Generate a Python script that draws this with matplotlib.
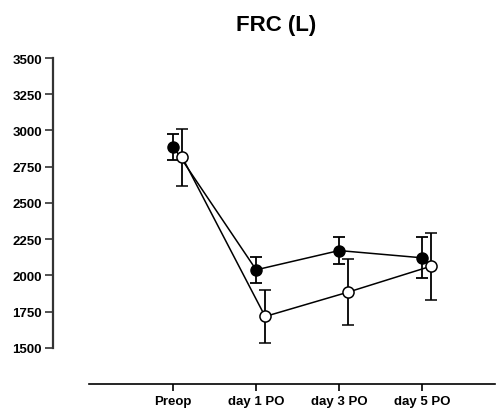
import numpy as np
import matplotlib
matplotlib.use('Agg')
import matplotlib.pyplot as plt

# 数据
labels = ['Preop', 'day 1 PO', 'day 3 PO', 'day 5 PO']
filled_mean = [2888, 2038, 2171, 2121]
filled_err = [89, 88, 92, 141]
open_mean = [2815, 1716, 1884, 2063]
open_err = [195, 182, 227, 230]

plt.rcParams['font.family'] = ['Liberation Sans', 'DejaVu Sans']
plt.rcParams['font.weight'] = 'bold'

fig = plt.figure(figsize=(5.01, 4.14), dpi=100)
ax = fig.add_axes([53 / 501, 1 - 385 / 414, (495 - 53) / 501, (385 - 59) / 414])

x = np.arange(len(labels))
offset = 0.108

# 实心点系列
ax.errorbar(x, filled_mean, yerr=filled_err, fmt='-o', color='black',
            mfc='black', mec='black', ms=8, lw=1.1, elinewidth=1.3,
            capsize=4, capthick=1.3, zorder=3)
# 空心点系列
ax.errorbar(x + offset, open_mean, yerr=open_err, fmt='-o', color='black',
            mfc='white', mec='black', ms=8, mew=1.1, lw=1.1, elinewidth=1.3,
            capsize=4, capthick=1.3, zorder=4)

ax.set_xlim(-1.45, 3.88)
ax.set_ylim(1250, 3500)
ax.set_yticks(range(1500, 3501, 250))
ax.set_xticks(x)
ax.set_xticklabels(labels)

for s in ['top', 'right']:
    ax.spines[s].set_visible(False)
ax.spines['left'].set_bounds(1500, 3500)
ax.spines['bottom'].set_bounds(-1.01, 3.88)
ax.spines['left'].set_linewidth(1.6)
ax.spines['left'].set_color('#333333')
ax.spines['bottom'].set_linewidth(1.2)

ax.tick_params(axis='y', length=6, width=1.2, pad=2, labelsize=9.5, color='#333333')
ax.tick_params(axis='x', length=5, width=1.2, pad=3, labelsize=9.5)
for t in ax.get_xticklabels() + ax.get_yticklabels():
    t.set_fontweight('bold')

fig.text(276 / 501, 1 - 25 / 414, 'FRC (L)', ha='center', va='center',
         fontsize=16, fontweight='bold')

fig.savefig('out.png', dpi=100)
